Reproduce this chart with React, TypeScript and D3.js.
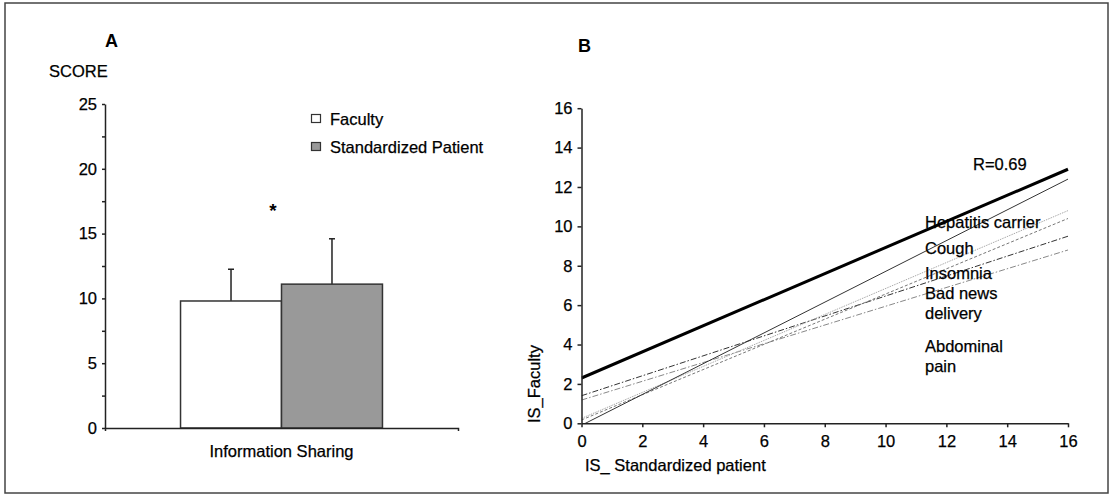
import React, { useEffect, useRef } from 'react';
import * as d3 from 'd3';

// panel A: mean scores
const groups = ['Faculty', 'Standardized Patient'];
const categories = ['Information Sharing'];
const meanScores = [9.8, 11.1];
const sdScores = [2.45, 3.5];
const scoreTicks = [0, 2.5, 5, 7.5, 10, 12.5, 15, 17.5, 20, 22.5, 25];

// panel B: regression lines, IS_Faculty vs IS_ Standardized patient
const fitNames = ['R=0.69', 'Hepatitis carrier', 'Cough', 'Insomnia', 'Bad news delivery', 'Abdominal pain'];
const fitX = [0, 16];
const fitStartY = [2.3, -0.1, 0.25, 0.17, 1.4, 1.18];
const fitEndY = [12.9, 12.4, 10.8, 10.4, 9.5, 8.8];
const caseLabelLines = [['Hepatitis carrier'], ['Cough'], ['Insomnia'], ['Bad news', 'delivery'], ['Abdominal', 'pain']];
const axisTicksB = [0, 2, 4, 6, 8, 10, 12, 14, 16];

const FONT = "Arial, 'Liberation Sans', sans-serif";
const FS = 16.5;

const App = () => {
  const ref = useRef<SVGSVGElement>(null);

  useEffect(() => {
    const svg = d3.select(ref.current);
    svg.selectAll('*').remove();
    svg.attr('font-family', FONT);

    // outer frame
    svg.append('rect')
      .attr('x', 5).attr('y', 3).attr('width', 1103).attr('height', 490)
      .attr('fill', 'none').attr('stroke', '#444').attr('stroke-width', 1.5);

    const txt = (sel: any) => sel.attr('font-size', FS).attr('fill', '#000')
      .attr('stroke', '#000').attr('stroke-width', 0.25).attr('font-family', FONT);

    // ---------- panel A ----------
    const yA = d3.scaleLinear().domain([0, 25]).range([428, 104]);
    const xA = d3.scaleBand().domain(categories).range([105, 458]).paddingOuter(0.374).paddingInner(0);
    const xGroup = d3.scaleBand().domain(groups).range([0, xA.bandwidth()]);
    const color = d3.scaleOrdinal<string>().domain(groups).range(['#ffffff', '#999999']);

    const gA = svg.append('g');

    const bars = groups.map((g, i) => ({ group: g, mean: meanScores[i], sd: sdScores[i] }));
    const cat = categories[0];

    bars.forEach(b => {
      const x0 = (xA(cat) as number) + (xGroup(b.group) as number);
      const cx = x0 + xGroup.bandwidth() / 2;
      // error bar (upper only)
      gA.append('line')
        .attr('x1', cx).attr('x2', cx)
        .attr('y1', yA(b.mean)).attr('y2', yA(b.mean + b.sd))
        .attr('stroke', '#222').attr('stroke-width', 1.5);
      gA.append('line')
        .attr('x1', cx - 3).attr('x2', cx + 3)
        .attr('y1', yA(b.mean + b.sd)).attr('y2', yA(b.mean + b.sd))
        .attr('stroke', '#222').attr('stroke-width', 1.5);
      gA.append('rect')
        .attr('x', x0).attr('y', yA(b.mean))
        .attr('width', xGroup.bandwidth()).attr('height', yA(0) - yA(b.mean))
        .attr('fill', color(b.group)).attr('stroke', '#333').attr('stroke-width', 1.5);
    });

    const axA = gA.append('g')
      .attr('transform', 'translate(105,0)')
      .call(d3.axisLeft(yA).tickValues(scoreTicks).tickSize(3).tickSizeOuter(0).tickPadding(5)
        .tickFormat(d => (+d % 5 === 0 ? String(d) : '')));
    const axBottomA = gA.append('g')
      .attr('transform', 'translate(0,428)')
      .call(d3.axisBottom(xA).tickSize(0).tickSizeOuter(3).tickPadding(17));
    [axA, axBottomA].forEach(ax => {
      ax.selectAll('path, line').attr('stroke', '#222').attr('stroke-width', 1.5);
      txt(ax.selectAll('text'));
    });

    gA.append('text').attr('x', 105).attr('y', 47)
      .attr('font-size', 18).attr('font-weight', 'bold').attr('fill', '#000').text('A');
    txt(gA.append('text').attr('x', 49).attr('y', 77)).text('SCORE');
    gA.append('text').attr('x', 273).attr('y', 217).attr('text-anchor', 'middle')
      .attr('font-size', 19).attr('font-weight', 'bold').attr('fill', '#000').text('*');

    // legend
    groups.forEach((g, i) => {
      const ly = 125 + i * 28;
      gA.append('rect')
        .attr('x', 311.5).attr('y', ly - 10.5).attr('width', 9).attr('height', 8)
        .attr('fill', color(g)).attr('stroke', '#333').attr('stroke-width', 1.2);
      txt(gA.append('text').attr('x', 330).attr('y', ly)).text(g);
    });

    // ---------- panel B ----------
    const xB = d3.scaleLinear().domain([0, 16]).range([581.5, 1068]);
    const yB = d3.scaleLinear().domain([0, 16]).range([423.3, 108.2]);

    const gB = svg.append('g');

    gB.append('clipPath').attr('id', 'plotB')
      .append('rect')
      .attr('x', xB(0)).attr('y', yB(16) - 10)
      .attr('width', xB(16) - xB(0) + 10).attr('height', yB(0) - yB(16) + 10);

    const styles = [
      { stroke: '#000', width: 3, dash: null },
      { stroke: '#333', width: 1, dash: null },
      { stroke: '#aaa', width: 1, dash: '1.5,1' },
      { stroke: '#777', width: 1, dash: '3,2' },
      { stroke: '#333', width: 1, dash: '6,2,1.5,2' },
      { stroke: '#888', width: 1, dash: '6,2,1.5,2' },
    ];

    const line = d3.line<[number, number]>()
      .x(d => xB(d[0]))
      .y(d => yB(d[1]));

    // draw thin lines first, bold on top
    const order = [5, 4, 3, 2, 1, 0];
    order.forEach(i => {
      const pts: [number, number][] = [[fitX[0], fitStartY[i]], [fitX[1], fitEndY[i]]];
      const s = styles[i];
      gB.append('path')
        .datum(pts)
        .attr('d', line)
        .attr('fill', 'none')
        .attr('clip-path', 'url(#plotB)')
        .attr('stroke', s.stroke)
        .attr('stroke-width', s.width)
        .attr('stroke-dasharray', s.dash);
    });

    const axLeftB = gB.append('g')
      .attr('transform', `translate(${xB(0)},0)`)
      .call(d3.axisLeft(yB).tickValues(axisTicksB).tickSize(4).tickSizeOuter(0).tickPadding(5));
    const axBottomB = gB.append('g')
      .attr('transform', `translate(0,${yB(0)})`)
      .call(d3.axisBottom(xB).tickValues(axisTicksB).tickSize(4).tickSizeOuter(0).tickPadding(8));
    [axLeftB, axBottomB].forEach(ax => {
      ax.selectAll('path, line').attr('stroke', '#222').attr('stroke-width', 1.5);
      txt(ax.selectAll('text'));
    });

    gB.append('text').attr('x', 578).attr('y', 52)
      .attr('font-size', 18).attr('font-weight', 'bold').attr('fill', '#000').text('B');
    txt(gB.append('text').attr('x', 585).attr('y', 471)).text('IS_ Standardized patient');
    txt(gB.append('text').attr('transform', 'translate(540,423) rotate(-90)')).text('IS_Faculty');

    txt(gB.append('text').attr('x', 973).attr('y', 170)).text(fitNames[0]);

    const labelBaselines = [228, 253.5, 279, 299, 351.5];
    caseLabelLines.forEach((lines, i) => {
      const t = txt(gB.append('text').attr('x', 925).attr('y', labelBaselines[i]));
      lines.forEach((ln, j) => {
        t.append('tspan').attr('x', 925).attr('dy', j === 0 ? 0 : 20).text(ln);
      });
    });
  }, []);

  return (
    <svg
      ref={ref}
      width={1111}
      height={495}
      style={{ position: 'absolute', left: 0, top: 0, background: '#fff' }}
    />
  );
};

export default App;
